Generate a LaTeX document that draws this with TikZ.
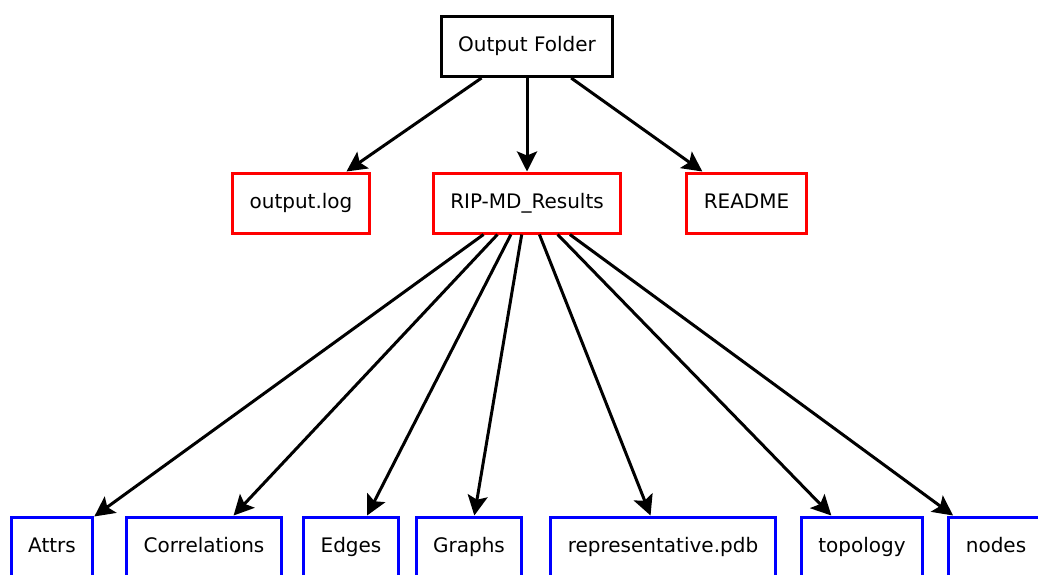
\documentclass[tikz,border=0pt]{standalone}
\usepackage{fontspec}
\setmainfont{DejaVu Sans}
\usetikzlibrary{positioning,arrows.meta}

\tikzset{
  folder/.style={draw,line width=1.5pt,minimum height=30pt,inner xsep=8.5pt,text height=7.5pt,text depth=2.3pt,font=\fontsize{10}{12}\selectfont},
  topdir/.style={folder,draw=black},
  subdir/.style={folder,draw=red},
  leafdir/.style={folder,draw=blue},
}

\begin{document}
\begin{tikzpicture}[x=0.5pt,y=-0.5pt,line width=1.5pt,>={Stealth[length=10pt,width=10pt,inset=2pt]}]
    \useasboundingbox (0,0) rectangle (1038,574);
    \clip (0,0) rectangle (1038,574);

          \node[topdir]  (out)    at (527,46.5) {Output Folder};
          \node[subdir]  (log)    at (301,203)  {output.log};
          \node[subdir]  (res)    at (527,203)  {RIP-MD\_Results};
          \node[subdir]  (readme) at (746.5,203) {README};

          \node[leafdir] (attrs) at (52,547)   {Attrs};
          \node[leafdir] (corr)  at (204,547)  {Correlations};
          \node[leafdir] (edges) at (351,547)  {Edges};
          \node[leafdir] (graphs) at (469,547) {Graphs};
          \node[leafdir] (pdb)   at (663,547)  {representative.pdb};
          \node[leafdir] (topo)  at (862,547)  {topology};
          \node[leafdir] (nodes) at (996,547)  {nodes};

          \path[->] (out) edge (log)
                    (out) edge (res)
                    (out) edge (readme);

          \foreach \leaf in {attrs,corr,edges,graphs,pdb,topo,nodes}
            \draw[->] (res) -- (\leaf);
\end{tikzpicture}
\end{document}
